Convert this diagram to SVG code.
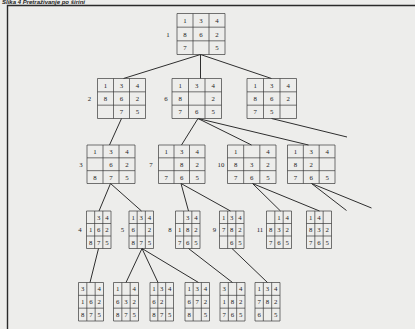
<svg xmlns="http://www.w3.org/2000/svg" width="415" height="329" viewBox="0 0 415 329">
<style>
.bg{fill:#ededeb}
.frame{fill:none;stroke:#2a2a2a;stroke-width:1.4}
.grid{fill:none;stroke:#3a3a3a;stroke-width:0.7}
.t{font-family:"Liberation Serif",serif;font-size:6.8px;fill:#222;text-anchor:middle;dominant-baseline:central}
.lbl{font-family:"Liberation Serif",serif;font-size:6.8px;fill:#222;text-anchor:middle;dominant-baseline:central}
.edge{stroke:#2e2e2e;stroke-width:1;fill:none}
.title{font-family:"Liberation Sans",Arial,sans-serif;font-size:6px;font-weight:bold;font-style:italic;fill:#222}
</style>
<rect class="bg" x="0" y="0" width="415" height="329"/>
<text class="title" x="2" y="4.4">Slika 4 Pretraživanje po širini</text>
<path class="frame" d="M7.5 329 V5.5 H415"/>

<g id="connectors">
<path class="edge" d="M200.5 54.5 L123.5 78.5 M200.5 54.5 L200.5 78.5 M200.5 54.5 L271.5 78.5"/>
<path class="edge" d="M121.5 118.5 L109.5 145"/>
<path class="edge" d="M198 118.5 L181.5 145 M198 118.5 L251.5 145 M198 118.5 L308.5 145"/>
<path class="edge" d="M271.5 118.5 L347 137"/>
<path class="edge" d="M110.5 183.5 L99 211 M110.5 183.5 L141.5 211"/>
<path class="edge" d="M181 183.5 L188.5 211 M181 183.5 L230.5 211"/>
<path class="edge" d="M252.5 183.5 L280.5 211 M252.5 183.5 L319.5 211"/>
<path class="edge" d="M311.5 183.5 L346.5 210.5 M311.5 183.5 L371.5 208"/>
<path class="edge" d="M98.5 248.5 L90 282.5"/>
<path class="edge" d="M142 248.5 L126 282.5 M142 248.5 L158 282.5 M142 248.5 L198.5 282.5"/>
<path class="edge" d="M188.5 248.5 L232.5 282.5"/>
<path class="edge" d="M232 248.5 L267.5 282.5"/>
</g>

<g id="n1">
<path class="grid" d="M177 13.5 h48 v41 h-48 z M193 13.5 v41 M209 13.5 v41 M177 27.17 h48 M177 40.83 h48"/>
<text class="lbl" x="168" y="34">1</text>
<text class="t" x="185" y="20.3">1</text><text class="t" x="201" y="20.3">3</text><text class="t" x="217" y="20.3">4</text>
<text class="t" x="185" y="34">8</text><text class="t" x="201" y="34">6</text><text class="t" x="217" y="34">2</text>
<text class="t" x="185" y="47.7">7</text><text class="t" x="217" y="47.7">5</text>
</g>

<g id="n2">
<path class="grid" d="M97.5 78.5 h48 v40 h-48 z M113.5 78.5 v40 M129.5 78.5 v40 M97.5 91.83 h48 M97.5 105.17 h48"/>
<text class="lbl" x="89.5" y="98.5">2</text>
<text class="t" x="105.5" y="85.2">1</text><text class="t" x="121.5" y="85.2">3</text><text class="t" x="137.5" y="85.2">4</text>
<text class="t" x="105.5" y="98.5">8</text><text class="t" x="121.5" y="98.5">6</text><text class="t" x="137.5" y="98.5">2</text>
<text class="t" x="121.5" y="111.8">7</text><text class="t" x="137.5" y="111.8">5</text>
</g>

<g id="n6">
<path class="grid" d="M172 78.5 h49.5 v40 h-49.5 z M188.5 78.5 v40 M205 78.5 v40 M172 91.83 h49.5 M172 105.17 h49.5"/>
<text class="lbl" x="166" y="98.5">6</text>
<text class="t" x="180.25" y="85.2">1</text><text class="t" x="196.75" y="85.2">3</text><text class="t" x="213.25" y="85.2">4</text>
<text class="t" x="180.25" y="98.5">8</text><text class="t" x="213.25" y="98.5">2</text>
<text class="t" x="180.25" y="111.8">7</text><text class="t" x="196.75" y="111.8">6</text><text class="t" x="213.25" y="111.8">5</text>
</g>

<g id="n2c">
<path class="grid" d="M247 78.5 h49.5 v40 h-49.5 z M263.5 78.5 v40 M280 78.5 v40 M247 91.83 h49.5 M247 105.17 h49.5"/>
<text class="t" x="255.25" y="85.2">1</text><text class="t" x="271.75" y="85.2">3</text><text class="t" x="288.25" y="85.2">4</text>
<text class="t" x="255.25" y="98.5">8</text><text class="t" x="271.75" y="98.5">6</text><text class="t" x="288.25" y="98.5">2</text>
<text class="t" x="255.25" y="111.8">7</text><text class="t" x="271.75" y="111.8">5</text>
</g>

<g id="n3">
<path class="grid" d="M87 145 h48 v38.5 h-48 z M103 145 v38.5 M119 145 v38.5 M87 157.83 h48 M87 170.67 h48"/>
<text class="lbl" x="81" y="164.25">3</text>
<text class="t" x="95" y="151.4">1</text><text class="t" x="111" y="151.4">3</text><text class="t" x="127" y="151.4">4</text>
<text class="t" x="111" y="164.25">6</text><text class="t" x="127" y="164.25">2</text>
<text class="t" x="95" y="177.1">8</text><text class="t" x="111" y="177.1">7</text><text class="t" x="127" y="177.1">5</text>
</g>

<g id="n7">
<path class="grid" d="M158.5 145 h46.5 v38.5 h-46.5 z M174 145 v38.5 M189.5 145 v38.5 M158.5 157.83 h46.5 M158.5 170.67 h46.5"/>
<text class="lbl" x="151" y="164.25">7</text>
<text class="t" x="166.25" y="151.4">1</text><text class="t" x="181.75" y="151.4">3</text><text class="t" x="197.25" y="151.4">4</text>
<text class="t" x="181.75" y="164.25">8</text><text class="t" x="197.25" y="164.25">2</text>
<text class="t" x="166.25" y="177.1">7</text><text class="t" x="181.75" y="177.1">6</text><text class="t" x="197.25" y="177.1">5</text>
</g>

<g id="n10">
<path class="grid" d="M227.5 145 h48.5 v38.5 h-48.5 z M243.67 145 v38.5 M259.83 145 v38.5 M227.5 157.83 h48.5 M227.5 170.67 h48.5"/>
<text class="lbl" x="221" y="164.25">10</text>
<text class="t" x="235.6" y="151.4">1</text><text class="t" x="267.9" y="151.4">4</text>
<text class="t" x="235.6" y="164.25">8</text><text class="t" x="251.75" y="164.25">3</text><text class="t" x="267.9" y="164.25">2</text>
<text class="t" x="235.6" y="177.1">7</text><text class="t" x="251.75" y="177.1">6</text><text class="t" x="267.9" y="177.1">5</text>
</g>

<g id="n3d">
<path class="grid" d="M287.5 145 h47.5 v38.5 h-47.5 z M303.33 145 v38.5 M319.17 145 v38.5 M287.5 157.83 h47.5 M287.5 170.67 h47.5"/>
<text class="t" x="295.4" y="151.4">1</text><text class="t" x="311.25" y="151.4">3</text><text class="t" x="327.1" y="151.4">4</text>
<text class="t" x="295.4" y="164.25">8</text><text class="t" x="311.25" y="164.25">2</text>
<text class="t" x="295.4" y="177.1">7</text><text class="t" x="311.25" y="177.1">6</text><text class="t" x="327.1" y="177.1">5</text>
</g>

<g id="n4">
<path class="grid" d="M86.5 211 h24.5 v37.5 h-24.5 z M94.67 211 v37.5 M102.83 211 v37.5 M86.5 223.5 h24.5 M86.5 236 h24.5"/>
<text class="lbl" x="80" y="229.75">4</text>
<text class="t" x="98.75" y="217.25">3</text><text class="t" x="106.9" y="217.25">4</text>
<text class="t" x="90.6" y="229.75">1</text><text class="t" x="98.75" y="229.75">6</text><text class="t" x="106.9" y="229.75">2</text>
<text class="t" x="90.6" y="242.25">8</text><text class="t" x="98.75" y="242.25">7</text><text class="t" x="106.9" y="242.25">5</text>
</g>

<g id="n5">
<path class="grid" d="M129 211 h24.5 v37.5 h-24.5 z M137.17 211 v37.5 M145.33 211 v37.5 M129 223.5 h24.5 M129 236 h24.5"/>
<text class="lbl" x="122.5" y="229.75">5</text>
<text class="t" x="133.1" y="217.25">1</text><text class="t" x="141.25" y="217.25">3</text><text class="t" x="149.4" y="217.25">4</text>
<text class="t" x="133.1" y="229.75">6</text><text class="t" x="149.4" y="229.75">2</text>
<text class="t" x="133.1" y="242.25">8</text><text class="t" x="141.25" y="242.25">7</text><text class="t" x="149.4" y="242.25">5</text>
</g>

<g id="n8">
<path class="grid" d="M175.5 211 h24.5 v37.5 h-24.5 z M183.67 211 v37.5 M191.83 211 v37.5 M175.5 223.5 h24.5 M175.5 236 h24.5"/>
<text class="lbl" x="170" y="229.75">8</text>
<text class="t" x="187.75" y="217.25">3</text><text class="t" x="195.9" y="217.25">4</text>
<text class="t" x="179.6" y="229.75">1</text><text class="t" x="187.75" y="229.75">8</text><text class="t" x="195.9" y="229.75">2</text>
<text class="t" x="179.6" y="242.25">7</text><text class="t" x="187.75" y="242.25">6</text><text class="t" x="195.9" y="242.25">5</text>
</g>

<g id="n9">
<path class="grid" d="M219.5 211 h24.5 v37.5 h-24.5 z M227.67 211 v37.5 M235.83 211 v37.5 M219.5 223.5 h24.5 M219.5 236 h24.5"/>
<text class="lbl" x="214.5" y="229.75">9</text>
<text class="t" x="223.6" y="217.25">1</text><text class="t" x="231.75" y="217.25">3</text><text class="t" x="239.9" y="217.25">4</text>
<text class="t" x="223.6" y="229.75">7</text><text class="t" x="231.75" y="229.75">8</text><text class="t" x="239.9" y="229.75">2</text>
<text class="t" x="231.75" y="242.25">6</text><text class="t" x="239.9" y="242.25">5</text>
</g>

<g id="n11">
<path class="grid" d="M266.5 211 h25 v37.5 h-25 z M274.83 211 v37.5 M283.17 211 v37.5 M266.5 223.5 h25 M266.5 236 h25"/>
<text class="lbl" x="260" y="229.75">11</text>
<text class="t" x="279" y="217.25">1</text><text class="t" x="287.3" y="217.25">4</text>
<text class="t" x="270.7" y="229.75">8</text><text class="t" x="279" y="229.75">3</text><text class="t" x="287.3" y="229.75">2</text>
<text class="t" x="270.7" y="242.25">7</text><text class="t" x="279" y="242.25">6</text><text class="t" x="287.3" y="242.25">5</text>
</g>

<g id="n12">
<path class="grid" d="M306.5 211 h25 v37.5 h-25 z M314.83 211 v37.5 M323.17 211 v37.5 M306.5 223.5 h25 M306.5 236 h25"/>
<text class="t" x="310.7" y="217.25">1</text><text class="t" x="319" y="217.25">4</text>
<text class="t" x="310.7" y="229.75">8</text><text class="t" x="319" y="229.75">3</text><text class="t" x="327.3" y="229.75">2</text>
<text class="t" x="310.7" y="242.25">7</text><text class="t" x="319" y="242.25">6</text><text class="t" x="327.3" y="242.25">5</text>
</g>

<g id="n5a">
<path class="grid" d="M78.5 282.5 h25 v38.5 h-25 z M86.83 282.5 v38.5 M95.17 282.5 v38.5 M78.5 295.33 h25 M78.5 308.17 h25"/>
<text class="t" x="82.7" y="288.9">3</text><text class="t" x="99.3" y="288.9">4</text>
<text class="t" x="82.7" y="301.75">1</text><text class="t" x="91" y="301.75">6</text><text class="t" x="99.3" y="301.75">2</text>
<text class="t" x="82.7" y="314.6">8</text><text class="t" x="91" y="314.6">7</text><text class="t" x="99.3" y="314.6">5</text>
</g>

<g id="n5b">
<path class="grid" d="M113.5 282.5 h25 v38.5 h-25 z M121.83 282.5 v38.5 M130.17 282.5 v38.5 M113.5 295.33 h25 M113.5 308.17 h25"/>
<text class="t" x="117.7" y="288.9">1</text><text class="t" x="134.3" y="288.9">4</text>
<text class="t" x="117.7" y="301.75">6</text><text class="t" x="126" y="301.75">3</text><text class="t" x="134.3" y="301.75">2</text>
<text class="t" x="117.7" y="314.6">8</text><text class="t" x="126" y="314.6">7</text><text class="t" x="134.3" y="314.6">5</text>
</g>

<g id="n5c">
<path class="grid" d="M150 282.5 h23.5 v38.5 h-23.5 z M157.83 282.5 v38.5 M165.67 282.5 v38.5 M150 295.33 h23.5 M150 308.17 h23.5"/>
<text class="t" x="153.9" y="288.9">1</text><text class="t" x="161.75" y="288.9">3</text><text class="t" x="169.6" y="288.9">4</text>
<text class="t" x="153.9" y="301.75">6</text><text class="t" x="161.75" y="301.75">2</text>
<text class="t" x="153.9" y="314.6">8</text><text class="t" x="161.75" y="314.6">7</text><text class="t" x="169.6" y="314.6">5</text>
</g>

<g id="n5d">
<path class="grid" d="M185 282.5 h24.5 v38.5 h-24.5 z M193.17 282.5 v38.5 M201.33 282.5 v38.5 M185 295.33 h24.5 M185 308.17 h24.5"/>
<text class="t" x="189.1" y="288.9">1</text><text class="t" x="197.25" y="288.9">3</text><text class="t" x="205.4" y="288.9">4</text>
<text class="t" x="189.1" y="301.75">6</text><text class="t" x="197.25" y="301.75">7</text><text class="t" x="205.4" y="301.75">2</text>
<text class="t" x="189.1" y="314.6">8</text><text class="t" x="205.4" y="314.6">5</text>
</g>

<g id="n5e">
<path class="grid" d="M220 282.5 h25 v38.5 h-25 z M228.33 282.5 v38.5 M236.67 282.5 v38.5 M220 295.33 h25 M220 308.17 h25"/>
<text class="t" x="224.2" y="288.9">3</text><text class="t" x="240.8" y="288.9">4</text>
<text class="t" x="224.2" y="301.75">1</text><text class="t" x="232.5" y="301.75">8</text><text class="t" x="240.8" y="301.75">2</text>
<text class="t" x="224.2" y="314.6">7</text><text class="t" x="232.5" y="314.6">6</text><text class="t" x="240.8" y="314.6">5</text>
</g>

<g id="n5f">
<path class="grid" d="M255 282.5 h25 v38.5 h-25 z M263.33 282.5 v38.5 M271.67 282.5 v38.5 M255 295.33 h25 M255 308.17 h25"/>
<text class="t" x="259.2" y="288.9">1</text><text class="t" x="267.5" y="288.9">3</text><text class="t" x="275.8" y="288.9">4</text>
<text class="t" x="259.2" y="301.75">7</text><text class="t" x="267.5" y="301.75">8</text><text class="t" x="275.8" y="301.75">2</text>
<text class="t" x="259.2" y="314.6">6</text><text class="t" x="275.8" y="314.6">5</text>
</g>
</svg>
